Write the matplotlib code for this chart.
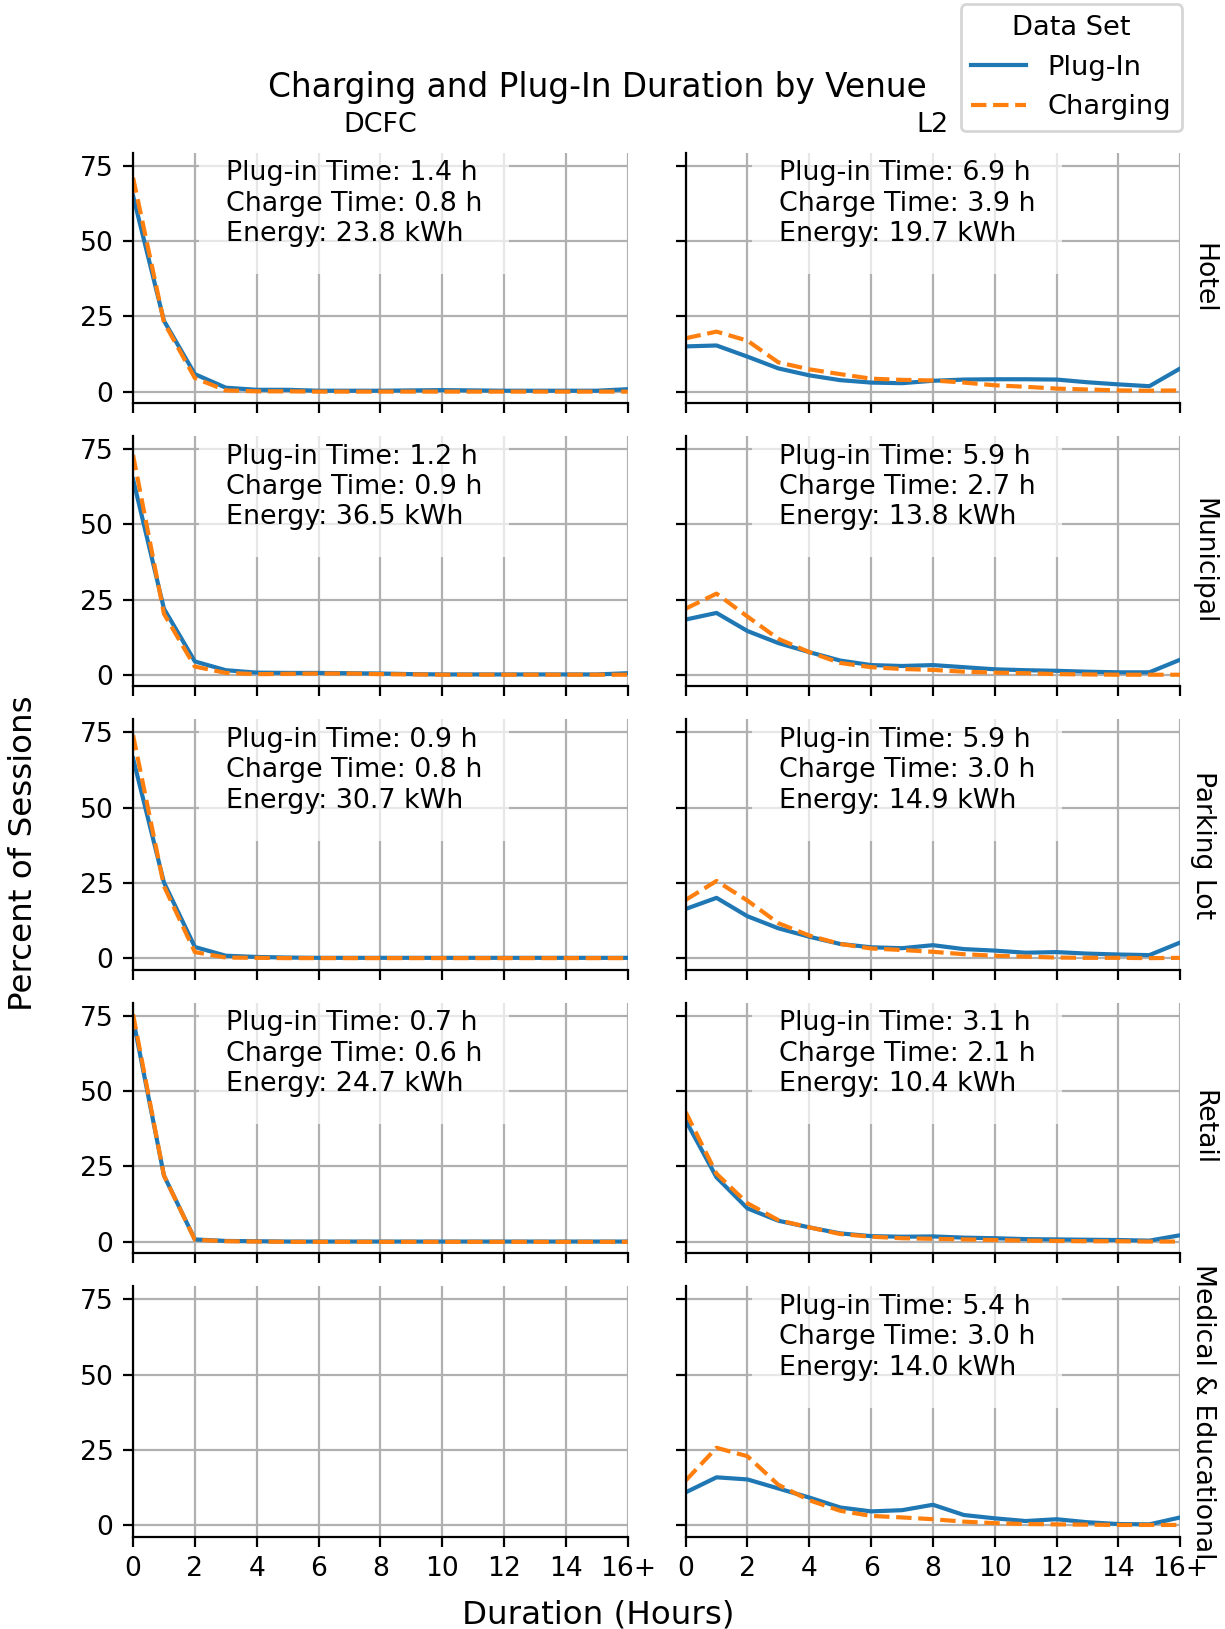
import matplotlib
matplotlib.use("Agg")
import matplotlib.pyplot as plt
from matplotlib.lines import Line2D

# duration bins (hours), last bin is 16+
hours = list(range(17))
hour_ticks = [0, 2, 4, 6, 8, 10, 12, 14, 16]
hour_tick_labels = ["0", "2", "4", "6", "8", "10", "12", "14", "16+"]

venues = ["Hotel", "Municipal", "Parking Lot", "Retail", "Medical & Educational"]
charger_types = ["DCFC", "L2"]

# percent of sessions per duration bin
hotel_dcfc_plug = [65, 23.5, 5.8, 1.3, 0.6, 0.6, 0.3, 0.3, 0.3, 0.4, 0.5, 0.4, 0.3, 0.3, 0.3, 0.3, 0.8]
hotel_dcfc_charge = [71, 23, 4.5, 0.4, 0.1, 0.1, 0, 0, 0, 0, 0, 0, 0, 0, 0, 0, 0]
hotel_l2_plug = [15.0, 15.3, 11.6, 7.7, 5.4, 3.8, 3.0, 2.8, 3.6, 4.0, 4.1, 4.1, 4.0, 3.1, 2.4, 1.8, 7.7]
hotel_l2_charge = [17.7, 19.9, 16.9, 9.7, 7.4, 5.8, 4.3, 3.9, 3.7, 3.0, 2.1, 1.6, 1.0, 0.7, 0.4, 0.3, 0.4]

municipal_dcfc_plug = [65, 22, 4.5, 1.6, 0.8, 0.7, 0.7, 0.6, 0.5, 0.3, 0.2, 0.2, 0.2, 0.2, 0.2, 0.2, 0.6]
municipal_dcfc_charge = [73, 20.3, 2.8, 0.7, 0.3, 0.4, 0.5, 0.5, 0.3, 0.2, 0.1, 0.1, 0.1, 0.1, 0.1, 0.1, 0.1]
municipal_l2_plug = [18.4, 20.6, 14.6, 10.6, 7.6, 4.8, 3.3, 3.0, 3.3, 2.6, 1.9, 1.6, 1.4, 1.1, 0.9, 0.9, 5.1]
municipal_l2_charge = [22.0, 27.0, 19.4, 12.0, 7.6, 4.0, 2.6, 2.0, 1.7, 1.1, 0.8, 0.6, 0.3, 0.2, 0.1, 0.1, 0.1]

parking_dcfc_plug = [66.4, 25.2, 3.8, 0.9, 0.5, 0.3, 0.2, 0.2, 0.2, 0.2, 0.2, 0.2, 0.2, 0.2, 0.2, 0.2, 0.2]
parking_dcfc_charge = [74.1, 24.0, 2.1, 0.3, 0.2, 0.1, 0.1, 0.1, 0.1, 0.1, 0.1, 0.1, 0.1, 0.1, 0.1, 0.1, 0.1]
parking_l2_plug = [16.4, 20.1, 14.0, 10.0, 7.2, 4.8, 3.7, 3.4, 4.4, 3.1, 2.6, 1.9, 2.1, 1.6, 1.3, 1.1, 5.3]
parking_l2_charge = [19.4, 25.7, 19.2, 11.7, 7.6, 4.8, 3.3, 2.8, 2.2, 1.4, 0.9, 0.6, 0.3, 0.2, 0.2, 0.1, 0.2]

retail_dcfc_plug = [74, 22, 0.8, 0.3, 0.2, 0.1, 0.1, 0.1, 0.1, 0.1, 0.1, 0.1, 0.1, 0.1, 0.1, 0.1, 0.1]
retail_dcfc_charge = [75.5, 22, 0.7, 0.2, 0.1, 0, 0, 0, 0, 0, 0, 0, 0, 0, 0, 0, 0]
retail_l2_plug = [40.3, 21.4, 11.1, 7.0, 4.8, 2.8, 1.9, 1.7, 1.8, 1.4, 1.2, 0.9, 0.8, 0.7, 0.6, 0.4, 2.2]
retail_l2_charge = [43.1, 22.6, 12.8, 7.2, 4.8, 2.6, 1.7, 1.2, 1.0, 0.8, 0.6, 0.4, 0.3, 0.2, 0.2, 0.1, 0.1]

medical_l2_plug = [10.9, 15.9, 15.2, 12.2, 9.2, 5.9, 4.6, 5.0, 6.8, 3.4, 2.3, 1.4, 2.0, 1.0, 0.4, 0.3, 2.6]
medical_l2_charge = [14.8, 25.7, 22.9, 13.4, 8.3, 4.8, 3.1, 2.6, 2.0, 1.2, 0.7, 0.4, 0.3, 0.2, 0.1, 0.1, 0.1]

# mean values shown in each panel (None = no DCFC data)
dcfc_plug_time = [1.4, 1.2, 0.9, 0.7, None]
dcfc_charge_time = [0.8, 0.9, 0.8, 0.6, None]
dcfc_energy = [23.8, 36.5, 30.7, 24.7, None]
l2_plug_time = [6.9, 5.9, 5.9, 3.1, 5.4]
l2_charge_time = [3.9, 2.7, 3.0, 2.1, 3.0]
l2_energy = [19.7, 13.8, 14.9, 10.4, 14.0]

panels = [
    [(hotel_dcfc_plug, hotel_dcfc_charge), (hotel_l2_plug, hotel_l2_charge)],
    [(municipal_dcfc_plug, municipal_dcfc_charge), (municipal_l2_plug, municipal_l2_charge)],
    [(parking_dcfc_plug, parking_dcfc_charge), (parking_l2_plug, parking_l2_charge)],
    [(retail_dcfc_plug, retail_dcfc_charge), (retail_l2_plug, retail_l2_charge)],
    [(None, None), (medical_l2_plug, medical_l2_charge)],
]
stats = [
    (dcfc_plug_time, dcfc_charge_time, dcfc_energy),
    (l2_plug_time, l2_charge_time, l2_energy),
]

BLUE = "#1f77b4"
ORANGE = "#ff7f0e"

plt.rcParams["font.family"] = "DejaVu Sans"
plt.rcParams["xtick.labelsize"] = 9.6
plt.rcParams["ytick.labelsize"] = 9.6

fig = plt.figure(figsize=(6.125, 8.145), dpi=200)
axes = fig.subplots(5, 2, sharex=True, sharey=True)
fig.subplots_adjust(left=0.1086, right=0.9635, top=0.9063, bottom=0.0567,
                    wspace=0.117, hspace=0.132)

for r, venue in enumerate(venues):
    for c, ctype in enumerate(charger_types):
        ax = axes[r, c]
        plug, charge = panels[r][c]
        if plug is not None:
            ax.plot(hours, plug, color=BLUE, linewidth=1.5, linestyle="-")
            ax.plot(hours, charge, color=ORANGE, linewidth=1.5, linestyle="--")
        pt, ct, en = stats[c]
        if pt[r] is not None:
            txt = f"Plug-in Time: {pt[r]:.1f} h\nCharge Time: {ct[r]:.1f} h\nEnergy: {en[r]:.1f} kWh"
            ax.text(0.188, 0.97, txt, transform=ax.transAxes, ha="left", va="top",
                    fontsize=9.7, linespacing=1.22,
                    bbox=dict(facecolor="white", alpha=0.7, edgecolor="none", pad=9.7))
        ax.grid(True, color="#b0b0b0", linewidth=0.8)
        ax.set_axisbelow(True)
        for side in ["top", "right"]:
            ax.spines[side].set_visible(False)
        ax.tick_params(axis="x", labelbottom=(r == len(venues) - 1))
        if r == 0:
            ax.set_title(ctype, fontsize=9.7, pad=7.5)
        if c == 1:
            ax.annotate(venue, xy=(1.02, 0.5), xycoords="axes fraction",
                        rotation=270, ha="left", va="center", fontsize=9.6)

axes[0, 0].set_xlim(0, 16)
axes[0, 0].set_xticks(hour_ticks)
axes[0, 0].set_xticklabels(hour_tick_labels)
axes[0, 0].set_yticks([0, 25, 50, 75])

fig.suptitle("Charging and Plug-In Duration by Venue", x=0.488, y=0.946,
             va="center", fontsize=11.8)
fig.supxlabel("Duration (Hours)", x=0.488, y=0.0085, va="center", fontsize=11.7)
fig.supylabel("Percent of Sessions", x=0.0068, y=0.476, va="center", fontsize=11.7)

handles = [Line2D([], [], color=BLUE, linewidth=1.5, linestyle="-"),
           Line2D([], [], color=ORANGE, linewidth=1.5, linestyle="--")]
fig.legend(handles, ["Plug-In", "Charging"], title="Data Set", loc="upper right",
           bbox_to_anchor=(0.965, 0.9975), borderaxespad=0,
           fontsize=9.8, title_fontsize=9.8)

fig.savefig("out.png", dpi=200)
